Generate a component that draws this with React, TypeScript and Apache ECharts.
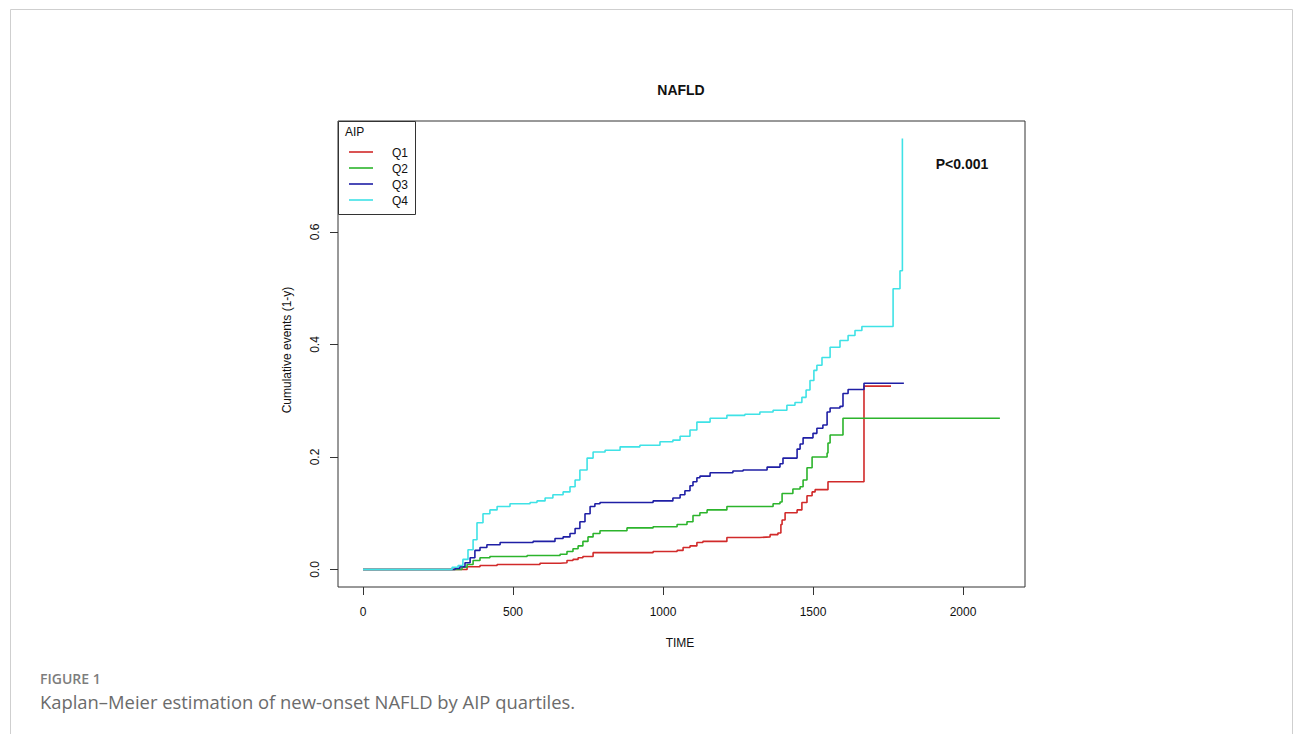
import React, { useEffect, useRef } from "react";
import * as echarts from "echarts";

// ---- Data ----
const groupNames = ["Q1", "Q2", "Q3", "Q4"];
const groupColors = ["#d12a2a", "#2cb42c", "#1f1fa5", "#3fe2e6"];

const q1Times = [0, 347, 390, 447, 590, 657, 680, 700, 717, 733, 767, 967, 1047, 1067, 1090, 1113, 1133, 1213, 1323, 1357, 1383, 1393, 1397, 1407, 1447, 1463, 1480, 1497, 1507, 1550, 1670, 1760];
const q1Values = [0, 0.005, 0.007, 0.009, 0.011, 0.012, 0.016, 0.018, 0.021, 0.023, 0.03, 0.032, 0.034, 0.039, 0.042, 0.048, 0.05, 0.057, 0.058, 0.062, 0.065, 0.08, 0.088, 0.101, 0.106, 0.119, 0.131, 0.138, 0.142, 0.156, 0.326, 0.326];

const q2Times = [0, 330, 347, 367, 390, 423, 547, 657, 680, 700, 717, 733, 750, 767, 790, 880, 967, 1047, 1080, 1100, 1123, 1147, 1213, 1367, 1390, 1397, 1433, 1457, 1467, 1480, 1497, 1547, 1550, 1557, 1600, 2123];
const q2Values = [0, 0.004, 0.009, 0.016, 0.021, 0.023, 0.025, 0.027, 0.032, 0.037, 0.042, 0.05, 0.058, 0.064, 0.069, 0.074, 0.076, 0.08, 0.085, 0.096, 0.101, 0.106, 0.112, 0.117, 0.12, 0.135, 0.143, 0.147, 0.159, 0.181, 0.2, 0.207, 0.225, 0.239, 0.269, 0.269];

const q3Times = [0, 307, 323, 340, 357, 373, 390, 413, 457, 567, 640, 667, 690, 707, 723, 740, 757, 773, 790, 967, 1033, 1057, 1073, 1090, 1100, 1113, 1123, 1157, 1233, 1267, 1347, 1390, 1400, 1447, 1457, 1467, 1500, 1513, 1533, 1547, 1557, 1590, 1600, 1617, 1670, 1803];
const q3Values = [0, 0.002, 0.005, 0.012, 0.021, 0.034, 0.039, 0.044, 0.048, 0.05, 0.055, 0.058, 0.064, 0.073, 0.085, 0.099, 0.112, 0.117, 0.119, 0.122, 0.127, 0.133, 0.14, 0.149, 0.156, 0.163, 0.166, 0.172, 0.175, 0.177, 0.182, 0.188, 0.198, 0.214, 0.223, 0.234, 0.242, 0.251, 0.257, 0.28, 0.287, 0.29, 0.313, 0.32, 0.331, 0.331];

const q4Times = [0, 297, 317, 333, 350, 367, 380, 400, 423, 447, 490, 557, 580, 607, 633, 667, 690, 707, 723, 747, 767, 807, 857, 923, 990, 1033, 1057, 1090, 1113, 1157, 1213, 1273, 1323, 1367, 1413, 1440, 1463, 1477, 1490, 1503, 1513, 1530, 1557, 1590, 1617, 1640, 1663, 1767, 1790, 1798];
const q4Values = [0, 0.004, 0.007, 0.018, 0.035, 0.053, 0.083, 0.099, 0.106, 0.112, 0.117, 0.119, 0.122, 0.127, 0.133, 0.138, 0.147, 0.159, 0.177, 0.198, 0.209, 0.212, 0.218, 0.221, 0.227, 0.23, 0.237, 0.248, 0.262, 0.269, 0.274, 0.276, 0.28, 0.283, 0.292, 0.297, 0.306, 0.319, 0.336, 0.354, 0.363, 0.377, 0.395, 0.407, 0.416, 0.425, 0.432, 0.499, 0.531, 0.766];

const groupTimes = [q1Times, q2Times, q3Times, q4Times];
const groupValues = [q1Values, q2Values, q3Values, q4Values];

const xTicks = [0, 500, 1000, 1500, 2000];
const yTicks = [0, 0.2, 0.4, 0.6];

const chartTitle = "NAFLD";
const xTitle = "TIME";
const yTitle = "Cumulative events (1-y)";
const legendTitle = "AIP";
const pText = "P<0.001";
const figLabel = "FIGURE 1";
const figCaption = "Kaplan\u2013Meier estimation of new-onset NAFLD by AIP quartiles.";

export default function App() {
  const ref = useRef<HTMLDivElement>(null);

  useEffect(() => {
    if (!ref.current) return;
    const chart = echarts.init(ref.current, undefined, { renderer: "svg" });
    const font = "'Liberation Sans', Arial, sans-serif";

    const series = groupNames.map((name, i) => ({
      name,
      type: "line",
      step: "end",
      showSymbol: false,
      symbol: "none",
      data: groupTimes[i].map((t, k) => [t, groupValues[i][k]]),
      lineStyle: { color: groupColors[i], width: 1.6 },
      itemStyle: { color: groupColors[i] },
      z: 2 + i,
    }));

    const legendItems: any[] = [];
    groupNames.forEach((name, i) => {
      const y = 152 + i * 16;
      legendItems.push({
        type: "line",
        shape: { x1: 349, y1: y, x2: 373, y2: y },
        style: { stroke: groupColors[i], lineWidth: 1.6 },
      });
      legendItems.push({
        type: "text",
        x: 392,
        y: y + 1,
        style: { text: name, font: `12px ${font}`, fill: "#111", textAlign: "left", textVerticalAlign: "middle" },
      });
    });

    chart.setOption({
      animation: false,
      backgroundColor: "#ffffff",
      grid: {
        left: 338,
        top: 121,
        width: 687,
        height: 466,
        show: true,
        borderColor: "#333",
        borderWidth: 1,
        backgroundColor: "transparent",
        containLabel: false,
      },
      xAxis: {
        type: "value",
        min: -83.3,
        max: 2206.7,
        splitLine: { show: false },
        axisLine: { show: false, onZero: false },
        axisTick: { show: true, length: 8, lineStyle: { color: "#333" }, customValues: xTicks },
        axisLabel: {
          show: true,
          margin: 19,
          color: "#111",
          fontSize: 12,
          fontFamily: font,
          customValues: xTicks,
          formatter: (v: number) => String(v),
        },
      },
      yAxis: {
        type: "value",
        min: -0.0311,
        max: 0.7973,
        splitLine: { show: false },
        axisLine: { show: false, onZero: false },
        axisTick: { show: true, length: 8, lineStyle: { color: "#333" }, customValues: yTicks },
        axisLabel: {
          show: true,
          rotate: 90,
          margin: 17,
          color: "#111",
          fontSize: 12,
          fontFamily: font,
          customValues: yTicks,
          formatter: (v: number) => v.toFixed(1),
        },
      },
      series,
      graphic: [
        {
          type: "rect",
          shape: { x: 10.5, y: 9.5, width: 1282, height: 800 },
          style: { fill: "none", stroke: "#cfcfcf", lineWidth: 1 },
          silent: true,
        },
        {
          type: "text",
          x: 681,
          y: 90,
          style: { text: chartTitle, font: `bold 14px ${font}`, fill: "#111", textAlign: "center", textVerticalAlign: "middle" },
        },
        {
          type: "text",
          x: 680,
          y: 643,
          style: { text: xTitle, font: `12px ${font}`, fill: "#111", textAlign: "center", textVerticalAlign: "middle" },
        },
        {
          type: "text",
          x: 287,
          y: 350,
          rotation: Math.PI / 2,
          style: { text: yTitle, font: `12px ${font}`, fill: "#111", textAlign: "center", textVerticalAlign: "middle" },
        },
        {
          type: "text",
          x: 962,
          y: 164,
          style: { text: pText, font: `bold 14px ${font}`, fill: "#111", textAlign: "center", textVerticalAlign: "middle" },
        },
        {
          type: "rect",
          shape: { x: 338.5, y: 121.5, width: 77, height: 93 },
          style: { fill: "#fff", stroke: "#333", lineWidth: 1 },
          z: 10,
        },
        {
          type: "text",
          x: 345,
          y: 132,
          z: 11,
          style: { text: legendTitle, font: `12px ${font}`, fill: "#111", textAlign: "left", textVerticalAlign: "middle" },
        },
        ...legendItems.map((it) => ({ ...it, z: 11 })),
        {
          type: "text",
          x: 40,
          y: 678,
          style: { text: figLabel, font: `600 14px 'Open Sans', sans-serif`, fill: "#7d7d7d", textAlign: "left", textVerticalAlign: "middle" },
        },
        {
          type: "text",
          x: 40,
          y: 701,
          style: { text: figCaption, font: `18.4px 'Open Sans', sans-serif`, fill: "#6b6b6b", textAlign: "left", textVerticalAlign: "middle" },
        },
      ],
    });

    return () => chart.dispose();
  }, []);

  return (
    <div
      ref={ref}
      style={{ position: "absolute", left: 0, top: 0, width: 1295, height: 734, background: "#fff" }}
    />
  );
}
